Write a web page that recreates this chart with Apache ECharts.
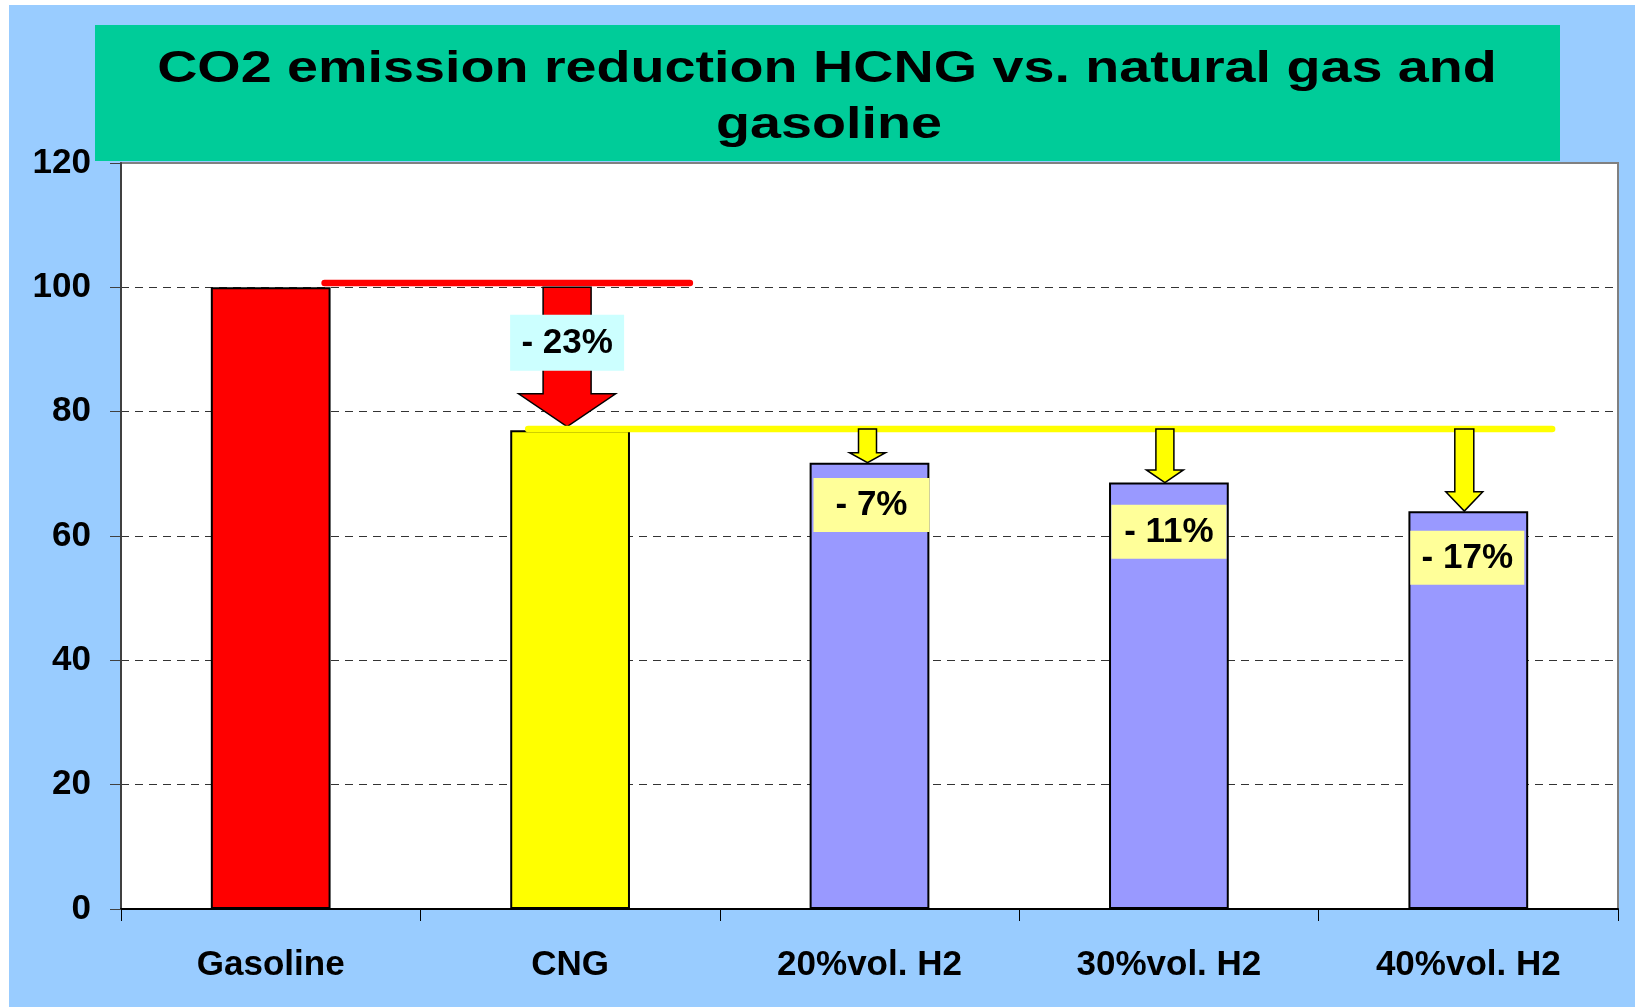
<!DOCTYPE html>
<html><head><meta charset="utf-8">
<script src="https://cdn.jsdelivr.net/npm/echarts@6/dist/echarts.min.js"></script>
<style>
html,body{margin:0;padding:0;background:#fff;width:1635px;height:1007px;overflow:hidden}
#bg{position:absolute;left:9px;top:5px;right:0;bottom:0;background:#99CCFF}
#chart{position:absolute;left:0;top:0;width:1635px;height:1007px}
</style></head><body><div id="bg"></div><div id="chart"></div>
<script>
// ---------------- data ----------------
const titleLines = ['CO2 emission reduction HCNG vs. natural gas and', 'gasoline'];
const categories = ['Gasoline', 'CNG', '20%vol. H2', '30%vol. H2', '40%vol. H2'];
const emissions = [100, 77, 71.8, 68.6, 64.0];
const yTickLabels = ['0', '20', '40', '60', '80', '100', '120'];
// reference lines: [start category, end category, value]
const gasolineRef = [0.18, 1.40, 100.7];
const cngRef = [0.86, 4.28, 77.2];
// reduction arrows
const arrowCategories = [1, 2, 3, 4];
const arrowFrom = [100, 77.2, 77.2, 77.2];
const arrowTo = [77.6, 71.8, 68.6, 64.0];
// reduction labels
const reductionLabels = ['- 23%', '- 7%', '- 11%', '- 17%'];
const labelCategories = [1, 2, 3, 4];
const labelValues = [91.1, 65.0, 60.7, 56.5];

// ---------------- styles ----------------
const FONT = '"Liberation Sans", Arial, sans-serif';
const barColors = ['#FF0000', '#FFFF00', '#9999FF', '#9999FF', '#9999FF'];
const refColors = ['#FF0000', '#FFFF00'];
const arrowFill = ['#FF0000', '#FFFF00', '#FFFF00', '#FFFF00'];
const arrowShaft = [48, 18, 18, 19];
const arrowHead = [97, 36, 37, 37];
const arrowDx = [-3, -2, -4, -4];
const labelFill = ['#CCFFFF', '#FFFF99', '#FFFF99', '#FFFF99'];
const labelBox = [[114, 56], [116, 54], [115, 54], [114, 54]];
const labelDx = [-3, 2, 0, -1];

const chart = echarts.init(document.getElementById('chart'), null, {renderer: 'canvas'});

const option = {
  backgroundColor: 'transparent',
  animation: false,
  graphic: [
    {type: 'rect', z: 0, shape: {x: 95, y: 25, width: 1465, height: 136}, style: {fill: '#00CC99'}},
    {type: 'text', z: 1, x: 827, y: 70, scaleX: 1.28,
      style: {text: titleLines[0], fontSize: 43.5, fontWeight: 'bold', fontFamily: FONT, fill: '#000',
        align: 'center', verticalAlign: 'middle', textAlign: 'center', textVerticalAlign: 'middle'}},
    {type: 'text', z: 1, x: 829, y: 126, scaleX: 1.28,
      style: {text: titleLines[1], fontSize: 43.5, fontWeight: 'bold', fontFamily: FONT, fill: '#000',
        align: 'center', verticalAlign: 'middle', textAlign: 'center', textVerticalAlign: 'middle'}}
  ],
  grid: {left: 121, right: 17, top: 163, bottom: 98, show: true,
    backgroundColor: '#FFFFFF', borderColor: '#808080', borderWidth: 2},
  xAxis: {
    type: 'category', data: categories,
    axisLine: {show: true, lineStyle: {color: '#000', width: 2}},
    axisTick: {show: true, length: 12, alignWithLabel: false, lineStyle: {color: '#000', width: 1}},
    axisLabel: {fontSize: 35, fontWeight: 'bold', fontFamily: FONT, color: '#000', margin: 38, lineHeight: 36, interval: 0},
    splitLine: {show: false}
  },
  yAxis: {
    type: 'value', min: 0, max: 120, interval: 20,
    axisLine: {show: true, lineStyle: {color: '#404040', width: 2}},
    axisTick: {show: true, length: 11, lineStyle: {color: '#404040', width: 1}},
    axisLabel: {fontSize: 35, fontWeight: 'bold', fontFamily: FONT, color: '#000', margin: 30,
      formatter: (v) => yTickLabels[Math.round(v / 20)]},
    splitLine: {show: true, showMinLine: false, showMaxLine: false,
      lineStyle: {color: '#333', width: 1, type: [8, 6]}}
  },
  series: [
    {
      type: 'bar', z: 2, barWidth: '40%',
      data: emissions.map((v, i) => ({value: v, itemStyle: {color: barColors[i]}})),
      itemStyle: {borderColor: '#000', borderWidth: 2}
    },
    {
      type: 'custom', z: 3, silent: true, clip: false,
      encode: {x: 0, y: 2},
      data: [gasolineRef.concat([0]), cngRef.concat([1])],
      renderItem: function (params, api) {
        const s = api.value(0), e = api.value(1), v = api.value(2), k = api.value(3);
        const base = api.coord([0, v]);
        const w = api.size([1, 0])[0];
        return {
          type: 'line', z2: k === 0 ? 1 : 3,
          shape: {x1: base[0] + s * w, y1: base[1], x2: base[0] + e * w, y2: base[1]},
          style: {stroke: refColors[k], lineWidth: 6.5, lineCap: 'round'}
        };
      }
    },
    {
      type: 'custom', z: 3, silent: true, clip: false,
      encode: {x: 0, y: 1},
      data: arrowCategories.map((c, i) => [c, arrowFrom[i], arrowTo[i], i]),
      renderItem: function (params, api) {
        const c = api.value(0), f = api.value(1), t = api.value(2), k = api.value(3);
        const p1 = api.coord([c, f]), p2 = api.coord([c, t]);
        const x = p1[0] + arrowDx[k];
        const y1 = p1[1], y2 = p2[1];
        const hl = Math.max(10, (y2 - y1) * 0.235);
        const sw = arrowShaft[k] / 2, hw = arrowHead[k] / 2;
        return {
          type: 'polygon', z2: k === 0 ? 2 : 4,
          shape: {points: [[x - sw, y1], [x + sw, y1], [x + sw, y2 - hl], [x + hw, y2 - hl], [x, y2],
            [x - hw, y2 - hl], [x - sw, y2 - hl]]},
          style: {fill: arrowFill[k], stroke: '#000', lineWidth: 1.5, lineJoin: 'miter'}
        };
      }
    },
    {
      type: 'custom', z: 3, silent: true, clip: false,
      encode: {x: 0, y: 1},
      data: labelCategories.map((c, i) => [c, labelValues[i], i]),
      renderItem: function (params, api) {
        const c = api.value(0), v = api.value(1), k = api.value(2);
        const p = api.coord([c, v]);
        const x = p[0] + labelDx[k], y = p[1];
        const bw = labelBox[k][0], bh = labelBox[k][1];
        return {
          type: 'group', z2: 10,
          children: [
            {type: 'rect', z2: 10, shape: {x: x - bw / 2, y: y - bh / 2, width: bw, height: bh},
              style: {fill: labelFill[k]}},
            {type: 'text', z2: 11, x: x, y: y + 0.5,
              style: {text: reductionLabels[k], fontSize: 35, fontWeight: 'bold', fontFamily: FONT,
                fill: '#000', align: 'center', verticalAlign: 'middle'}}
          ]
        };
      }
    }
  ]
};
chart.setOption(option);
</script></body></html>
